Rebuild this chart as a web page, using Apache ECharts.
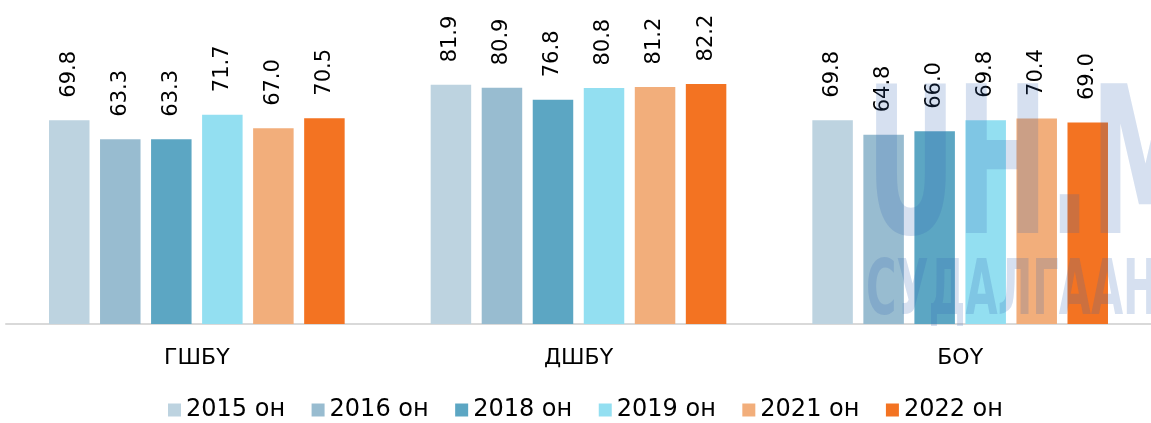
<!DOCTYPE html>
<html>
<head>
<meta charset="utf-8">
<script src="https://cdn.jsdelivr.net/npm/echarts@6/dist/echarts.min.js"></script>
<style>
	html, body { margin: 0; padding: 0; background: #fff; overflow: hidden; }
	#main { width: 1151px; height: 423px; }
</style>
</head>
<body>
<div id="main"></div>
<script>
var categories = ['ГШБҮ', 'ДШБҮ', 'БОҮ'];
var seriesNames = ['2015 он', '2016 он', '2018 он', '2019 он', '2021 он', '2022 он'];
var v2015 = [69.8, 81.9, 69.8];
var v2016 = [63.3, 80.9, 64.8];
var v2018 = [63.3, 76.8, 66.0];
var v2019 = [71.7, 80.8, 69.8];
var v2021 = [67.0, 81.2, 70.4];
var v2022 = [70.5, 82.2, 69.0];
var colors = ['#BDD3E0', '#98BCD0', '#5CA6C3', '#93DFF1', '#F2AE7B', '#F37322'];

var font = 'DejaVu Sans, sans-serif';
var markFont = 'DejaVu Sans Condensed, DejaVu Sans, sans-serif';
var allValues = [v2015, v2016, v2018, v2019, v2021, v2022];

var myChart = echarts.init(document.getElementById('main'));

var series = [];
for (var i = 0; i < seriesNames.length; i++) {
	series.push({
		name: seriesNames[i],
		type: 'bar',
		barWidth: 40.5,
		barGap: '26%',
		itemStyle: { color: colors[i] },
		label: {
			show: true,
			position: 'top',
			rotate: 90,
			align: 'left',
			verticalAlign: 'middle',
			distance: 22.5,
			fontSize: 21,
			fontFamily: font,
			color: '#000',
			formatter: function(p) {
				return p.value.toFixed(1);
			}
		},
		data: allValues[i]
	});
}

myChart.setOption({
	animation: false,
	color: colors,
	grid: {
		left: 6,
		right: 0,
		top: 32,
		bottom: 99
	},
	legend: {
		data: seriesNames,
		left: 163,
		top: 393,
		itemWidth: 13,
		itemHeight: 13,
		itemGap: 26.5,
		icon: 'rect',
		textStyle: { fontSize: 24, fontFamily: font, color: '#000' }
	},
	xAxis: {
		type: 'category',
		data: categories,
		axisLine: { lineStyle: { color: '#D9D9D9', width: 2 } },
		axisTick: { show: false },
		axisLabel: { fontSize: 22, fontFamily: font, color: '#000', margin: 23 }
	},
	yAxis: {
		type: 'value',
		min: 0,
		max: 100,
		show: false,
		splitLine: { show: false }
	},
	// watermark sits over the bars on the right
	graphic: [{
		type: 'text',
		x: 866,
		y: 77,
		scaleX: 0.6,
		z: 100,
		style: {
			text: 'UH.MN',
			fontSize: 205,
			fontWeight: 'bold',
			fontFamily: markFont,
			fill: 'rgba(50,100,180,0.2)'
		}
	}, {
		type: 'text',
		x: 866,
		y: 255,
		scaleX: 0.6,
		z: 100,
		style: {
			text: 'СУДАЛГААНЫ',
			fontSize: 77,
			fontWeight: 'bold',
			fontFamily: markFont,
			fill: 'rgba(50,100,180,0.2)'
		}
	}],
	series: series
});
</script>
</body>
</html>
